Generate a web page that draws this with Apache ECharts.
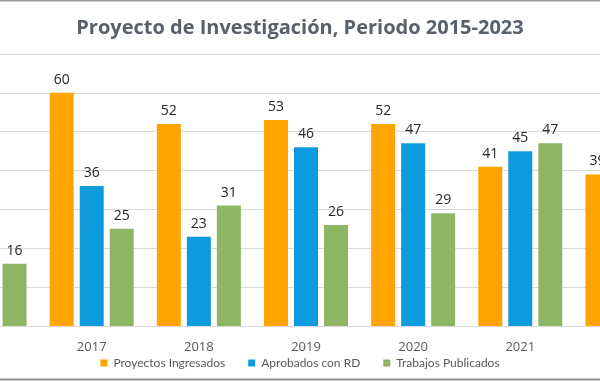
<!DOCTYPE html>
<html>
<head>
<meta charset="utf-8">
<script src="https://cdn.jsdelivr.net/npm/echarts@6/dist/echarts.min.js"></script>
<style>html,body{margin:0;padding:0;background:#fff}#c{width:600px;height:381px}</style>
</head>
<body>
<div id="c"></div>
<script>
const categories = ['2016', '2017', '2018', '2019', '2020', '2021', '2022'];
const proyectosIngresados = [null, 60, 52, 53, 52, 41, 39];
const aprobadosConRD = [null, 36, 23, 46, 47, 45, null];
const trabajosPublicados = [16, 25, 31, 26, 29, 47, null];
const seriesNames = ['Proyectos Ingresados', 'Aprobados con RD', 'Trabajos Publicados'];
const colors = ['#FFA400', '#0C9BDF', '#8DB564'];
const FONT = 'Open Sans';

const chart = echarts.init(document.getElementById('c'), null, {renderer: 'canvas'});
const label = {show: true, position: 'top', distance: 6, color: '#262626', fontSize: 14, fontFamily: FONT};
const mk = (name, data, i) => ({
  name, type: 'bar', data, barWidth: 24, barGap: '25%',
  itemStyle: {color: colors[i]}, label, emphasis: {disabled: true}
});
chart.setOption({
  animation: false,
  title: {
    text: 'Proyecto de Investigación, Periodo 2015-2023', left: 'center', top: 13,
    textStyle: {fontFamily: FONT, fontWeight: 'bold', fontSize: 20, color: '#58606B'}
  },
  legend: {
    data: seriesNames, top: 352, left: 'center', icon: 'rect', itemWidth: 7, itemHeight: 7,
    itemGap: 23, textStyle: {fontFamily: 'Lato', fontSize: 12, color: '#595959', padding: [0, 0, 0, 1]}
  },
  grid: {left: -69, width: 750, top: 54, height: 272, outerBoundsMode: 'none', containLabel: false},
  xAxis: {
    type: 'category', data: categories,
    axisLine: {lineStyle: {color: '#D9D9D9'}}, axisTick: {show: false},
    axisLabel: {margin: 15, color: '#595959', fontSize: 13, fontFamily: FONT, interval: 0}
  },
  yAxis: {
    type: 'value', min: 0, max: 70, interval: 10,
    axisLabel: {show: false}, axisLine: {show: false}, axisTick: {show: false},
    splitLine: {lineStyle: {color: '#D9D9D9'}}
  },
  graphic: [
    {type: 'rect', shape: {x: 0, y: 0, width: 600, height: 1.5}, style: {fill: '#9E9E9E'}, silent: true},
    {type: 'rect', shape: {x: 0, y: 378.5, width: 600, height: 2}, style: {fill: '#8E8E8E'}, silent: true}
  ],
  series: [
    mk(seriesNames[0], proyectosIngresados, 0),
    mk(seriesNames[1], aprobadosConRD, 1),
    mk(seriesNames[2], trabajosPublicados, 2)
  ]
});
</script>
</body>
</html>
